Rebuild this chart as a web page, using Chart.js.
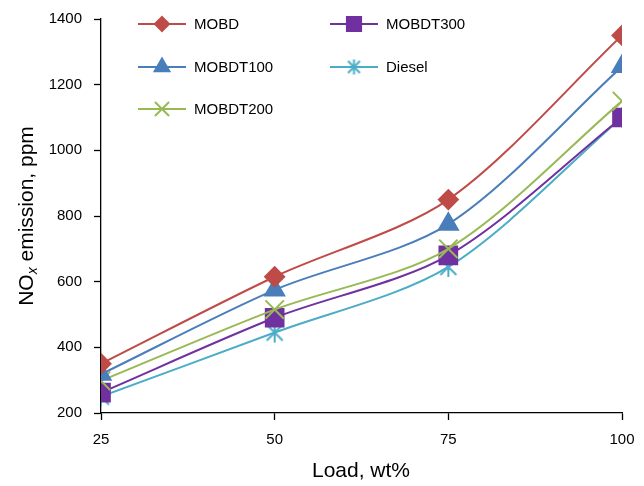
<!DOCTYPE html>
<html>
<head>
<meta charset="utf-8">
<script src="https://cdn.jsdelivr.net/npm/chart.js@4.4.1/dist/chart.umd.min.js"></script>
<style>
  body { margin: 0; background: #fff; }
  #wrap { width: 644px; height: 486px; }
</style>
</head>
<body>
<div id="wrap"><canvas id="grafico" width="644" height="486"></canvas></div>
<script>
const cargas = [25, 50, 75, 100];
const mobd = [350, 615, 850, 1350];
const mobdt100 = [318, 575, 775, 1255];
const mobdt200 = [298, 515, 700, 1150];
const mobdt300 = [262, 490, 680, 1100];
const diesel = [250, 445, 645, 1100];

const fonte = '"Liberation Sans", Arial, sans-serif';

// asterisco de 6 pontas (vertical + X), como o marcador do Excel
function criarAsterisco(tamanho, cor) {
    const c = document.createElement('canvas');
    c.width = tamanho;
    c.height = tamanho;
    const ctx = c.getContext('2d');
    const m = tamanho / 2;
    const r = m - 1;
    ctx.strokeStyle = cor;
    ctx.lineWidth = 2;
    ctx.beginPath();
    ctx.moveTo(m, m - r); ctx.lineTo(m, m + r);
    ctx.moveTo(m - r * 0.8, m - r * 0.8); ctx.lineTo(m + r * 0.8, m + r * 0.8);
    ctx.moveTo(m + r * 0.8, m - r * 0.8); ctx.lineTo(m - r * 0.8, m + r * 0.8);
    ctx.stroke();
    return c;
}

const series = [
    { label: 'MOBD', data: mobd, cor: '#BE4B48', estilo: 'rectRot', raio: 9.5, raioLeg: 7 },
    { label: 'MOBDT100', data: mobdt100, cor: '#4A7EBB', estilo: 'triangle', raio: 11, raioLeg: 8.5 },
    { label: 'MOBDT200', data: mobdt200, cor: '#98B954', estilo: 'crossRot', raio: 13, raioLeg: 10 },
    { label: 'MOBDT300', data: mobdt300, cor: '#7030A0', estilo: 'rect', raio: 12.5, raioLeg: 10 },
    { label: 'Diesel', data: diesel, cor: '#4BACC6', estilo: 'asterisco', raio: 10, raioLeg: 7.5 }
];

series.forEach((s) => {
    if (s.estilo == 'asterisco') {
        s.imagem = criarAsterisco(Math.round(s.raio * 2 + 2), s.cor);
        s.imagemLeg = criarAsterisco(Math.round(s.raioLeg * 2 + 2), s.cor);
    }
});

// legenda dentro da area do grafico, 2 colunas
const legendaInterna = {
    id: 'legendaInterna',
    afterDraw(chart) {
        const ctx = chart.ctx;
        const posicoes = [[138, 24], [138, 67], [138, 109], [330, 24], [330, 67]];
        series.forEach((s, i) => {
            const [x, y] = posicoes[i];
            ctx.save();
            ctx.strokeStyle = s.cor;
            ctx.lineWidth = 2;
            ctx.beginPath();
            ctx.moveTo(x, y);
            ctx.lineTo(x + 48, y);
            ctx.stroke();
            ctx.fillStyle = s.cor;
            Chart.helpers.drawPoint(ctx, {
                pointStyle: s.imagemLeg || s.estilo, radius: s.raioLeg, borderWidth: 2, rotation: 0
            }, x + 24, y);
            ctx.fillStyle = '#000';
            ctx.font = '15px ' + fonte;
            ctx.textBaseline = 'middle';
            ctx.fillText(s.label, x + 56, y + 1);
            ctx.restore();
        });
    }
};

// titulos dos eixos (NOx com x subscrito em italico)
const titulosEixos = {
    id: 'titulosEixos',
    afterDraw(chart) {
        const ctx = chart.ctx;
        ctx.save();
        ctx.fillStyle = '#000';
        ctx.textBaseline = 'alphabetic';
        ctx.font = '21px ' + fonte;
        ctx.textAlign = 'center';
        ctx.fillText('Load, wt%', 361, 477);

        ctx.translate(33, 216);
        ctx.rotate(-Math.PI / 2);
        const p1 = 'NO';
        const p2 = 'x';
        const p3 = ' emission, ppm';
        ctx.font = '21px ' + fonte;
        const w1 = ctx.measureText(p1).width;
        const w3 = ctx.measureText(p3).width;
        ctx.font = 'italic 14px ' + fonte;
        const w2 = ctx.measureText(p2).width;
        let x = -(w1 + w2 + w3) / 2;
        ctx.textAlign = 'left';
        ctx.font = '21px ' + fonte;
        ctx.fillText(p1, x, 0);
        x += w1;
        ctx.font = 'italic 14px ' + fonte;
        ctx.fillText(p2, x, 4);
        x += w2;
        ctx.font = '21px ' + fonte;
        ctx.fillText(p3, x, 0);
        ctx.restore();
    }
};

const data = {
    datasets: series.map((s) => ({
        label: s.label,
        data: cargas.map((c, i) => ({ x: c, y: s.data[i] })),
        borderColor: s.cor,
        backgroundColor: s.cor,
        borderWidth: 2,
        pointStyle: s.imagem || s.estilo,
        pointRadius: s.raio,
        pointBorderWidth: 2,
        pointBorderColor: s.cor,
        pointBackgroundColor: s.cor,
        tension: 0.3,
        fill: false
    }))
};

const options = {
    responsive: false,
    animation: false,
    layout: { padding: { top: 19, right: 22, left: 0, bottom: 0 } },
    scales: {
        x: {
            type: 'linear',
            min: 25,
            max: 100,
            afterFit: (s) => { s.height = 73; s.paddingLeft = 0; s.paddingRight = 0; },
            ticks: {
                stepSize: 25,
                color: '#000',
                font: { size: 15, family: fonte },
                padding: 11,
                callback: (v) => String(v)
            },
            grid: { drawOnChartArea: false, tickLength: 7, color: '#000', tickWidth: 1.3 },
            border: { color: '#000', width: 1.3 }
        },
        y: {
            min: 200,
            max: 1400,
            afterFit: (s) => { s.width = 101; s.paddingTop = 0; s.paddingBottom = 0; },
            ticks: {
                stepSize: 200,
                color: '#000',
                font: { size: 15, family: fonte },
                padding: 12,
                callback: (v) => String(v)
            },
            grid: { drawOnChartArea: false, tickLength: 7, color: '#000', tickWidth: 1.3 },
            border: { color: '#000', width: 1.3 }
        }
    },
    plugins: {
        legend: { display: false },
        tooltip: { enabled: false }
    }
};

new Chart(document.getElementById('grafico'), {
    type: 'line',
    data: data,
    options: options,
    plugins: [legendaInterna, titulosEixos]
});
</script>
</body>
</html>
